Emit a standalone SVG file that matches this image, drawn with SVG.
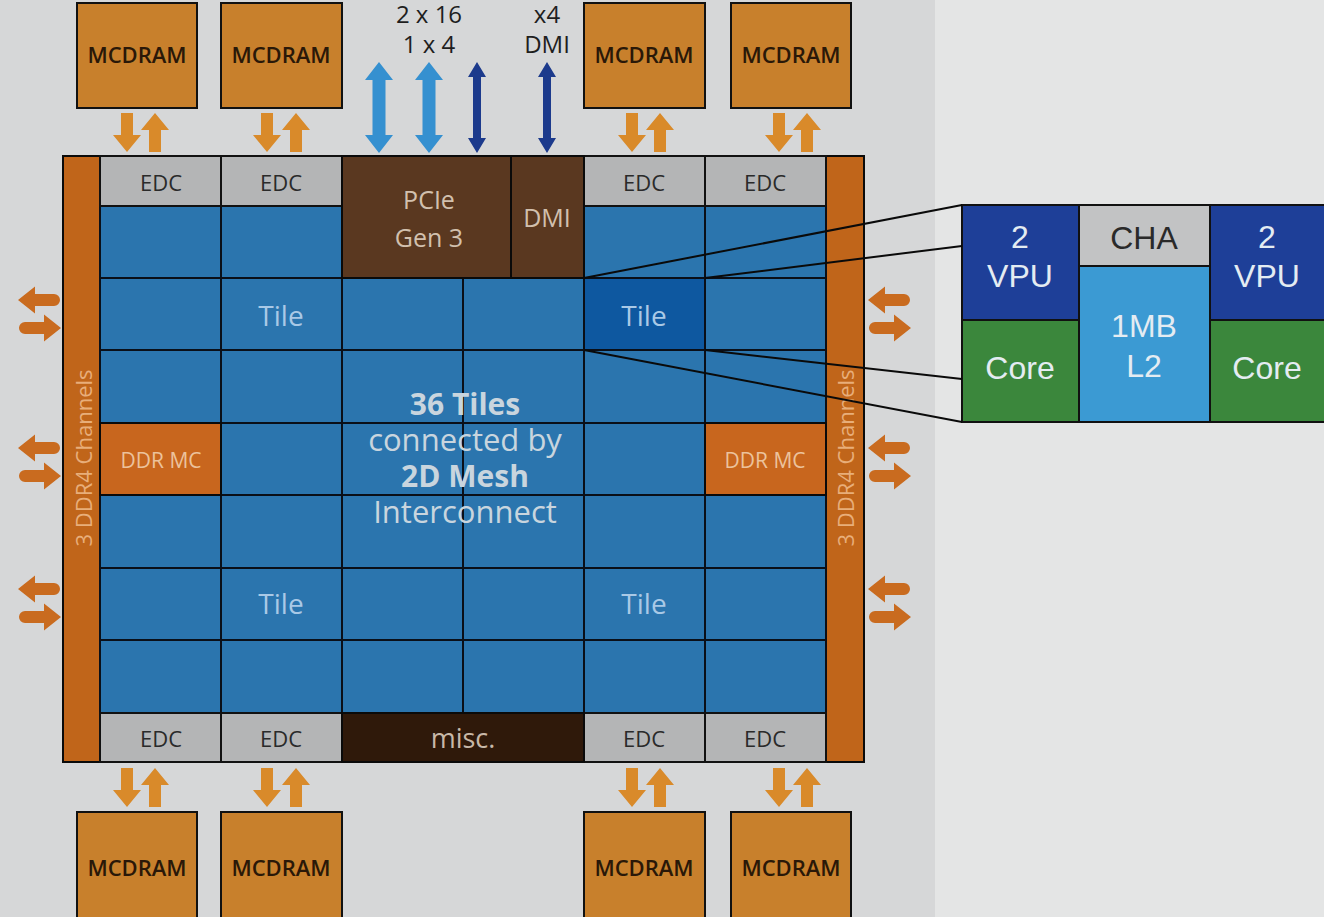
<svg xmlns="http://www.w3.org/2000/svg" width="1324" height="917" viewBox="0 0 1324 917">
<style>
.t{font-family:"Open Sans","Liberation Sans",sans-serif;text-anchor:middle;dominant-baseline:central}
.a{font-family:"Liberation Sans",Arial,sans-serif;text-anchor:middle;dominant-baseline:central;font-size:32px;fill:#e4ecf2}
.mc{fill:#c8802c;stroke:#111;stroke-width:2}
.mct{font-size:22px;fill:#2a1808;font-weight:600}
.edc{fill:#b4b5b6;stroke:#111;stroke-width:2}
.edct{font-size:22px;fill:#2a2a2a}
.tile{fill:#2b75ae;stroke:#0a0f18;stroke-width:2}
.tilet{font-size:28px;fill:#a9c9e6}
.oa{fill:#d98a2a}
.da{fill:#c96b1f}
.ln{stroke:#0a0a0a;stroke-width:2;fill:none}
</style>
<defs>
<path id="aDown" d="M-6,0 H6 V22 H14 L0,39 L-14,22 H-6 Z"/>
<path id="aUp" d="M-6,39 H6 V17 H14 L0,0 L-14,17 H-6 Z"/>
<path id="aLeft" d="M0,0 L17,-13.5 L17,-6 H36 a6,6 0 0 1 0,12 H17 L17,13.5 Z"/>
<path id="aRight" d="M0,0 L-17,-13.5 L-17,-6 H-36 a6,6 0 0 0 0,12 H-17 L-17,13.5 Z"/>
<path id="bLight" d="M0,0 L14,18 H6.5 V73 H14 L0,91 L-14,73 H-6.5 V18 H-14 Z"/>
<path id="bDark" d="M0,0 L9,15 H4 V76 H9 L0,91 L-9,76 H-4 V15 H-9 Z"/>
</defs>
<rect x="0" y="0" width="1324" height="917" fill="#e4e5e5"/>
<rect x="0" y="0" width="935" height="917" fill="#d6d7d8"/>

<g id="mcdram-top">
<rect class="mc" x="77" y="3" width="120" height="105"/><text class="t mct" x="137" y="54">MCDRAM</text>
<rect class="mc" x="221" y="3" width="121" height="105"/><text class="t mct" x="281" y="54">MCDRAM</text>
<rect class="mc" x="584" y="3" width="121" height="105"/><text class="t mct" x="644" y="54">MCDRAM</text>
<rect class="mc" x="731" y="3" width="120" height="105"/><text class="t mct" x="791" y="54">MCDRAM</text>
</g>
<g id="mcdram-bottom">
<rect class="mc" x="77" y="812" width="120" height="110"/><text class="t mct" x="137" y="867">MCDRAM</text>
<rect class="mc" x="221" y="812" width="121" height="110"/><text class="t mct" x="281" y="867">MCDRAM</text>
<rect class="mc" x="584" y="812" width="121" height="110"/><text class="t mct" x="644" y="867">MCDRAM</text>
<rect class="mc" x="731" y="812" width="120" height="110"/><text class="t mct" x="791" y="867">MCDRAM</text>
</g>

<g id="io-labels">
<text class="t" x="429" y="13" font-size="24" fill="#1e1e1e">2 x 16</text>
<text class="t" x="429" y="43" font-size="24" fill="#1e1e1e">1 x 4</text>
<text class="t" x="547" y="13" font-size="24" fill="#1e1e1e">x4</text>
<text class="t" x="547" y="43" font-size="24" fill="#1e1e1e">DMI</text>
</g>

<g id="chip">
<rect x="63" y="156" width="801" height="606" fill="#2b75ae" stroke="#0a0a0a" stroke-width="2"/>
<rect x="63" y="156" width="37" height="606" fill="#c0651a" stroke="#0a0a0a" stroke-width="2"/>
<rect x="826" y="156" width="38" height="606" fill="#c0651a" stroke="#0a0a0a" stroke-width="2"/>
<text class="t" transform="translate(83,458) rotate(-90)" font-size="22" fill="#e8ae7a">3 DDR4 Channels</text>
<text class="t" transform="translate(845,458) rotate(-90)" font-size="22" fill="#e8ae7a">3 DDR4 Channels</text>
</g>

<g id="tiles">
<rect class="tile" x="100" y="206" width="121" height="72"/>
<rect class="tile" x="221" y="206" width="121" height="72"/>
<rect class="tile" x="584" y="206" width="121" height="72"/>
<rect class="tile" x="705" y="206" width="121" height="72"/>
<rect class="tile" x="100" y="278" width="121" height="72"/>
<rect class="tile" x="221" y="278" width="121" height="72"/>
<rect class="tile" x="342" y="278" width="121" height="72"/>
<rect class="tile" x="463" y="278" width="121" height="72"/>
<rect x="584" y="278" width="121" height="72" fill="#0e58a0" stroke="#0a0f18" stroke-width="2"/>
<rect class="tile" x="705" y="278" width="121" height="72"/>
<rect class="tile" x="100" y="350" width="121" height="73"/>
<rect class="tile" x="221" y="350" width="121" height="73"/>
<rect class="tile" x="342" y="350" width="121" height="73"/>
<rect class="tile" x="463" y="350" width="121" height="73"/>
<rect class="tile" x="584" y="350" width="121" height="73"/>
<rect class="tile" x="705" y="350" width="121" height="73"/>
<rect class="tile" x="221" y="423" width="121" height="72"/>
<rect class="tile" x="342" y="423" width="121" height="72"/>
<rect class="tile" x="463" y="423" width="121" height="72"/>
<rect class="tile" x="584" y="423" width="121" height="72"/>
<rect class="tile" x="100" y="495" width="121" height="73"/>
<rect class="tile" x="221" y="495" width="121" height="73"/>
<rect class="tile" x="342" y="495" width="121" height="73"/>
<rect class="tile" x="463" y="495" width="121" height="73"/>
<rect class="tile" x="584" y="495" width="121" height="73"/>
<rect class="tile" x="705" y="495" width="121" height="73"/>
<rect class="tile" x="100" y="568" width="121" height="72"/>
<rect class="tile" x="221" y="568" width="121" height="72"/>
<rect class="tile" x="342" y="568" width="121" height="72"/>
<rect class="tile" x="463" y="568" width="121" height="72"/>
<rect class="tile" x="584" y="568" width="121" height="72"/>
<rect class="tile" x="705" y="568" width="121" height="72"/>
<rect class="tile" x="100" y="640" width="121" height="73"/>
<rect class="tile" x="221" y="640" width="121" height="73"/>
<rect class="tile" x="342" y="640" width="121" height="73"/>
<rect class="tile" x="463" y="640" width="121" height="73"/>
<rect class="tile" x="584" y="640" width="121" height="73"/>
<rect class="tile" x="705" y="640" width="121" height="73"/>
<text class="t tilet" x="281" y="315">Tile</text>
<text class="t tilet" x="644" y="315">Tile</text>
<text class="t tilet" x="281" y="603">Tile</text>
<text class="t tilet" x="644" y="603">Tile</text>
</g>

<g id="ddr-mc">
<rect x="100" y="423" width="121" height="72" fill="#c8661e" stroke="#0a0a0a" stroke-width="2"/>
<text class="t" x="161" y="460" font-size="21" fill="#ecc29c">DDR MC</text>
<rect x="705" y="423" width="121" height="72" fill="#c8661e" stroke="#0a0a0a" stroke-width="2"/>
<text class="t" x="765" y="460" font-size="21" fill="#ecc29c">DDR MC</text>
</g>

<g id="edc-top">
<rect class="edc" x="100" y="156" width="121" height="50"/><text class="t edct" x="161" y="182">EDC</text>
<rect class="edc" x="221" y="156" width="121" height="50"/><text class="t edct" x="281" y="182">EDC</text>
<rect class="edc" x="584" y="156" width="121" height="50"/><text class="t edct" x="644" y="182">EDC</text>
<rect class="edc" x="705" y="156" width="121" height="50"/><text class="t edct" x="765" y="182">EDC</text>
</g>
<g id="edc-bottom">
<rect class="edc" x="100" y="713" width="121" height="49"/><text class="t edct" x="161" y="738">EDC</text>
<rect class="edc" x="221" y="713" width="121" height="49"/><text class="t edct" x="281" y="738">EDC</text>
<rect class="edc" x="584" y="713" width="121" height="49"/><text class="t edct" x="644" y="738">EDC</text>
<rect class="edc" x="705" y="713" width="121" height="49"/><text class="t edct" x="765" y="738">EDC</text>
</g>

<g id="pcie">
<rect x="342" y="156" width="169" height="122" fill="#5a3820" stroke="#0a0a0a" stroke-width="2"/>
<text class="t" x="429" y="199" font-size="25" fill="#d2c0ae">PCIe</text>
<text class="t" x="429" y="237" font-size="25" fill="#d2c0ae">Gen 3</text>
</g>
<g id="dmi">
<rect x="511" y="156" width="73" height="122" fill="#5a3820" stroke="#0a0a0a" stroke-width="2"/>
<text class="t" x="547" y="217" font-size="25" fill="#d2c0ae">DMI</text>
</g>
<g id="misc">
<rect x="342" y="713" width="242" height="49" fill="#2f190a" stroke="#0a0a0a" stroke-width="2"/>
<text class="t" x="463" y="737" font-size="27" fill="#c8b8a8">misc.</text>
</g>

<g id="center-label" fill="#c9d5de">
<text class="t" x="465" y="403" font-size="30" font-weight="700">36 Tiles</text>
<text class="t" x="465" y="439" font-size="31">connected by</text>
<text class="t" x="465" y="475" font-size="30" font-weight="700">2D Mesh</text>
<text class="t" x="465" y="511" font-size="31">Interconnect</text>
</g>

<g id="tile-detail">
<rect x="962" y="205" width="117" height="115" fill="#1e3f98" stroke="#111" stroke-width="2"/>
<rect x="962" y="320" width="117" height="102" fill="#3b873c" stroke="#111" stroke-width="2"/>
<rect x="1079" y="205" width="131" height="61" fill="#c2c3c4" stroke="#111" stroke-width="2"/>
<rect x="1079" y="266" width="131" height="156" fill="#3b9ad3" stroke="#111" stroke-width="2"/>
<rect x="1210" y="205" width="116" height="115" fill="#1e3f98" stroke="#111" stroke-width="2"/>
<rect x="1210" y="320" width="116" height="102" fill="#3b873c" stroke="#111" stroke-width="2"/>
<text class="a" x="1020" y="237">2</text>
<text class="a" x="1020" y="276">VPU</text>
<text class="a" x="1020" y="368">Core</text>
<text class="a" x="1144" y="238" style="fill:#2a2a2a">CHA</text>
<text class="a" x="1144" y="326">1MB</text>
<text class="a" x="1144" y="366">L2</text>
<text class="a" x="1267" y="237">2</text>
<text class="a" x="1267" y="276">VPU</text>
<text class="a" x="1267" y="368">Core</text>
</g>

<g id="connectors">
<g class="oa">
<use href="#aDown" x="127" y="113"/><use href="#aUp" x="155" y="113"/>
<use href="#aDown" x="267" y="113"/><use href="#aUp" x="296" y="113"/>
<use href="#aDown" x="632" y="113"/><use href="#aUp" x="660" y="113"/>
<use href="#aDown" x="779" y="113"/><use href="#aUp" x="807" y="113"/>
<use href="#aDown" x="127" y="768"/><use href="#aUp" x="155" y="768"/>
<use href="#aDown" x="267" y="768"/><use href="#aUp" x="296" y="768"/>
<use href="#aDown" x="632" y="768"/><use href="#aUp" x="660" y="768"/>
<use href="#aDown" x="779" y="768"/><use href="#aUp" x="807" y="768"/>
</g>
<g class="da">
<use href="#aLeft" x="18" y="300"/><use href="#aRight" x="61" y="328"/>
<use href="#aLeft" x="18" y="448"/><use href="#aRight" x="61" y="476"/>
<use href="#aLeft" x="18" y="589"/><use href="#aRight" x="61" y="617"/>
<use href="#aLeft" x="868" y="300"/><use href="#aRight" x="911" y="328"/>
<use href="#aLeft" x="868" y="448"/><use href="#aRight" x="911" y="476"/>
<use href="#aLeft" x="868" y="589"/><use href="#aRight" x="911" y="617"/>
</g>
<use href="#bLight" x="379" y="62" fill="#3590d0"/>
<use href="#bLight" x="429" y="62" fill="#3590d0"/>
<use href="#bDark" x="477" y="62" fill="#1c3a8c"/>
<use href="#bDark" x="547" y="62" fill="#1c3a8c"/>
<line class="ln" x1="584" y1="278" x2="962" y2="205"/>
<line class="ln" x1="705" y1="278" x2="962" y2="246"/>
<line class="ln" x1="584" y1="350" x2="962" y2="422"/>
<line class="ln" x1="705" y1="350" x2="962" y2="379"/>
</g>
</svg>
